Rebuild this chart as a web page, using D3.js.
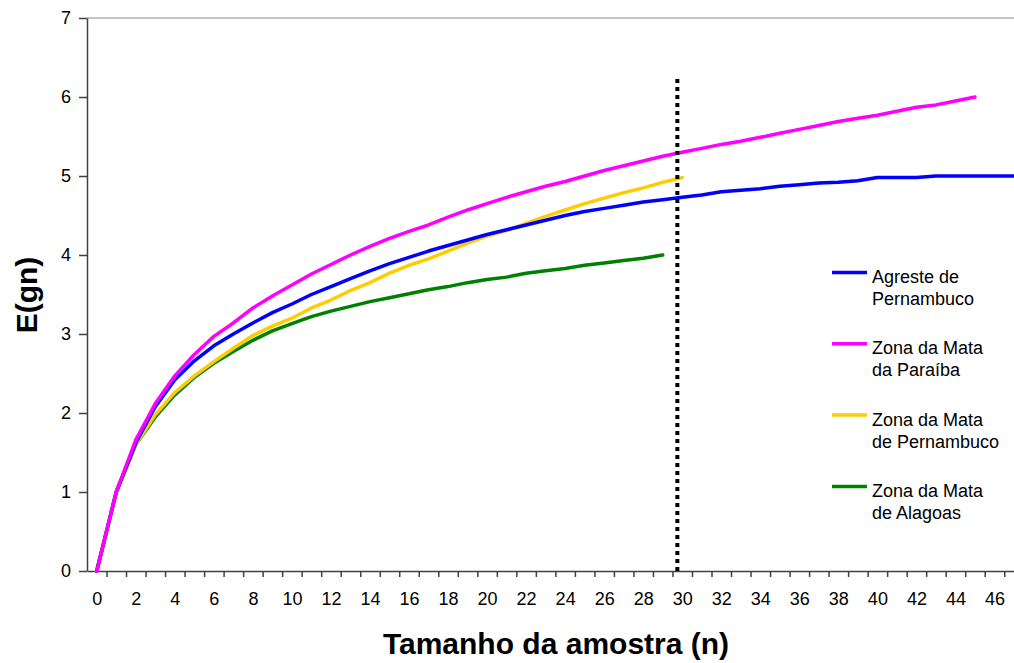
<!DOCTYPE html>
<html>
<head>
<meta charset="utf-8">
<script src="https://cdn.jsdelivr.net/npm/d3@7/dist/d3.min.js"></script>
<style>
  body { margin: 0; background: #fff; }
  svg { display: block; font-family: "Liberation Sans", Arial, sans-serif; }
</style>
</head>
<body>
<svg id="chart" width="1014" height="663"></svg>
<script>
// valores (E(gn) para cada tamanho de amostra n = 0, 1, 2, ...)
var agreste = [0, 1, 1.62, 2.08, 2.42, 2.66, 2.85, 3.0, 3.14, 3.27, 3.38, 3.5, 3.6, 3.7, 3.8, 3.89,
  3.97, 4.05, 4.12, 4.19, 4.26, 4.32, 4.38, 4.44, 4.5, 4.55, 4.59, 4.63, 4.67, 4.7, 4.73, 4.76,
  4.8, 4.82, 4.84, 4.87, 4.89, 4.91, 4.92, 4.94, 4.98, 4.98, 4.98, 5.0, 5.0, 5.0, 5.0, 5.0];
var paraiba = [0, 1, 1.66, 2.12, 2.47, 2.74, 2.97, 3.14, 3.33, 3.48, 3.62, 3.76, 3.88, 4.0, 4.11, 4.21,
  4.3, 4.38, 4.48, 4.57, 4.65, 4.73, 4.8, 4.87, 4.93, 5.0, 5.07, 5.13, 5.19, 5.25, 5.3, 5.35,
  5.4, 5.44, 5.49, 5.54, 5.59, 5.64, 5.69, 5.73, 5.77, 5.82, 5.87, 5.9, 5.95, 6.0];
var mataPE = [0, 1, 1.6, 1.98, 2.26, 2.47, 2.65, 2.82, 2.98, 3.1, 3.2, 3.33, 3.43, 3.55, 3.65, 3.77,
  3.87, 3.95, 4.05, 4.15, 4.24, 4.31, 4.4, 4.49, 4.57, 4.65, 4.72, 4.79, 4.85, 4.92, 4.98];
var alagoas = [0, 1, 1.6, 1.95, 2.23, 2.45, 2.63, 2.78, 2.92, 3.04, 3.13, 3.22, 3.29, 3.35, 3.41, 3.46,
  3.51, 3.56, 3.6, 3.65, 3.69, 3.72, 3.77, 3.8, 3.83, 3.87, 3.9, 3.93, 3.96, 4.0];

var seriesNames = [["Agreste de", "Pernambuco"], ["Zona da Mata", "da Paraíba"],
  ["Zona da Mata", "de Pernambuco"], ["Zona da Mata", "de Alagoas"]];
var seriesColors = ["#0000ff", "#ff00ff", "#ffcc00", "#008000"];
var seriesValues = [agreste, paraiba, mataPE, alagoas];

var cutoffN = 29.75;   // linha pontilhada vertical
var cutoffTop = 6.27;

var yTicks = [0, 1, 2, 3, 4, 5, 6, 7];
var xLabels = d3.range(0, 47, 2);

var svg = d3.select('svg#chart');

var x = d3.scaleLinear().domain([-0.5, 47]).range([87, 1014]);
var y = d3.scaleLinear().domain([0, 7]).range([571, 18]);

// borda superior da área do gráfico
svg.append('line')
  .attr('x1', x(-0.5)).attr('x2', x(47))
  .attr('y1', y(7)).attr('y2', y(7))
  .attr('stroke', '#888').attr('stroke-width', 1);

// eixo y
var yAxis = svg.append('g')
  .attr('transform', 'translate(' + x(-0.5) + ',0)')
  .call(d3.axisLeft(y).tickValues(yTicks).tickSize(8).tickPadding(8).tickSizeOuter(0)
    .tickFormat(d3.format('d')));
yAxis.selectAll('text').attr('font-size', 18).attr('fill', '#000')
  .attr('font-family', '"Liberation Sans", Arial, sans-serif');

// eixo x: marcas entre categorias
var xTickVals = d3.range(0.5, 47, 1);
var xAxis = svg.append('g')
  .attr('transform', 'translate(0,' + y(0) + ')')
  .call(d3.axisBottom(x).tickValues(xTickVals).tickSize(6).tickSizeOuter(0).tickFormat(''));
var xLab = svg.append('g')
  .attr('transform', 'translate(0,' + y(0) + ')')
  .call(d3.axisBottom(x).tickValues(xLabels).tickSize(0).tickPadding(21).tickFormat(d3.format('d')));
xLab.select('.domain').remove();
xLab.selectAll('text').attr('font-size', 18).attr('fill', '#000')
  .attr('font-family', '"Liberation Sans", Arial, sans-serif');

svg.selectAll('.domain, .tick line').attr('stroke', '#404040').attr('stroke-width', 1.5);

// linhas das séries
var line = d3.line()
  .x((d, i) => x(i))
  .y(d => y(d));

// ordem de desenho: verde, amarelo, azul, rosa por cima
[3, 2, 0, 1].forEach(function (k) {
  svg.append('path')
    .datum(seriesValues[k])
    .attr('d', line)
    .attr('fill', 'none')
    .attr('stroke', seriesColors[k])
    .attr('stroke-width', 3.5)
    .attr('stroke-linejoin', 'round')
    .attr('stroke-linecap', 'round');
});

// linha pontilhada em n = 30
svg.append('line')
  .attr('x1', x(cutoffN)).attr('x2', x(cutoffN))
  .attr('y1', y(0)).attr('y2', y(cutoffTop))
  .attr('stroke', '#000')
  .attr('stroke-width', 4)
  .attr('stroke-dasharray', '4,4');

// legenda
var leg = svg.selectAll('g.leg').data(seriesNames).enter().append('g')
  .attr('class', 'leg')
  .attr('transform', (d, i) => 'translate(832,' + (272.5 + i * 71.3) + ')');
leg.append('line')
  .attr('x1', 0).attr('x2', 35).attr('y1', 0).attr('y2', 0)
  .attr('stroke', (d, i) => seriesColors[i])
  .attr('stroke-width', 3.5);
leg.append('text')
  .attr('x', 40).attr('y', 10.5)
  .attr('font-size', 18)
  .text(d => d[0]);
leg.append('text')
  .attr('x', 40).attr('y', 32.5)
  .attr('font-size', 18)
  .text(d => d[1]);

// títulos dos eixos
svg.append('text')
  .attr('x', 556).attr('y', 654)
  .attr('text-anchor', 'middle')
  .attr('font-size', 30).attr('font-weight', 'bold')
  .text('Tamanho da amostra (n)');

svg.append('text')
  .attr('transform', 'translate(37,295) rotate(-90)')
  .attr('text-anchor', 'middle')
  .attr('font-size', 30).attr('font-weight', 'bold')
  .text('E(gn)');
</script>
</body>
</html>
